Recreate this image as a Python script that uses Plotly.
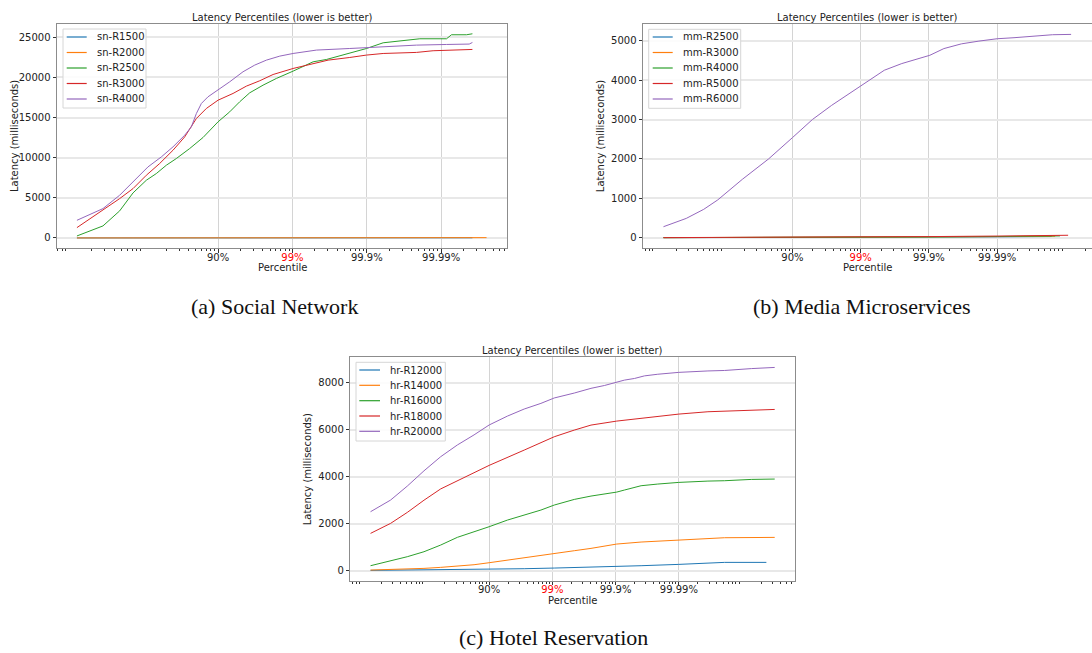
import plotly.graph_objects as go

W, H = 1092, 653
COLORS = ["#1f77b4", "#ff7f0e", "#2ca02c", "#d62728", "#9467bd"]
FONT = "DejaVu Sans"

# x positions are in "nines": 1 -> 90%, 2 -> 99%, 3 -> 99.9%, 4 -> 99.99%
# ---------------- Social Network ----------------
sn_names = ["sn-R1500", "sn-R2000", "sn-R2500", "sn-R3000", "sn-R4000"]
sn_nines = [
    [-0.897, 0.0, 1.0, 2.0, 3.0, 4.0, 4.42],
    [-0.897, 0.0, 1.0, 2.0, 3.0, 4.0, 4.61],
    [-0.897, -0.547, -0.323, -0.143, 0.036, 0.17, 0.305, 0.439, 0.619, 0.798, 1.0,
     1.157, 1.291, 1.426, 1.605, 1.785, 2.009, 2.278, 2.457, 2.771, 2.996, 3.22,
     3.444, 3.713, 4.072, 4.139, 4.341, 4.42],
    [-0.897, -0.547, -0.323, -0.143, 0.036, 0.215, 0.395, 0.552, 0.641, 0.709, 0.843,
     1.0, 1.202, 1.381, 1.561, 1.74, 2.009, 2.278, 2.48, 2.771, 2.996, 3.22, 3.668,
     3.892, 4.377, 4.42],
    [-0.897, -0.547, -0.323, -0.076, 0.058, 0.238, 0.395, 0.552, 0.641, 0.709, 0.776,
     0.865, 1.0, 1.157, 1.336, 1.493, 1.65, 1.83, 2.009, 2.323, 2.771, 3.22, 3.668,
     4.07, 4.377, 4.42],
]
sn_latency = [
    [3, 5, 7, 10, 14, 19, 24],
    [4, 6, 9, 13, 19, 28, 40],
    [250, 1500, 3370, 5610, 7190, 8020, 9060, 9890, 11140, 12510, 14460, 15710,
     16960, 18080, 19030, 19870, 20780, 21940, 22230, 22980, 23600, 24310, 24560,
     24810, 24810, 25310, 25310, 25430],
    [1290, 3450, 4900, 6150, 7810, 9270, 10930, 12590, 13840, 14880, 16130, 17160,
     18000, 18910, 19580, 20360, 21110, 21740, 22150, 22480, 22780, 22980, 23110,
     23320, 23400, 23480],
    [2200, 3660, 5320, 7600, 8850, 10100, 11350, 12800, 13840, 15500, 16750, 17580,
     18410, 19450, 20700, 21530, 22150, 22650, 22980, 23400, 23600, 23810, 24020,
     24100, 24150, 24350],
]

# ---------------- Media Microservices ----------------
mm_names = ["mm-R2500", "mm-R3000", "mm-R4000", "mm-R5000", "mm-R6000"]
mm_nines = [
    [-0.89, 1.0, 2.0, 3.0, 4.0, 4.8],
    [-0.89, 1.0, 2.0, 3.0, 4.0, 4.85],
    [-0.89, 1.0, 2.0, 3.0, 4.0, 4.92],
    [-0.89, 1.0, 2.0, 3.0, 4.0, 5.04],
    [-0.89, -0.556, -0.30, -0.094, 0.265, 0.651, 1.0, 1.293, 1.575, 1.781, 2.115,
     2.346, 2.603, 2.86, 3.014, 3.219, 3.476, 3.733, 4.0, 4.247, 4.504, 4.812, 5.084],
]
mm_latency = [
    [1, 3, 6, 12, 22, 30],
    [1, 4, 8, 15, 28, 38],
    [2, 5, 10, 18, 30, 45],
    [2, 6, 14, 28, 42, 62],
    [279, 490, 720, 960, 1480, 2000, 2540, 3000, 3360, 3600, 4000, 4250, 4420,
     4545, 4630, 4800, 4920, 4990, 5050, 5076, 5118, 5152, 5160],
]

# ---------------- Hotel Reservation ----------------
hr_names = ["hr-R12000", "hr-R14000", "hr-R16000", "hr-R18000", "hr-R20000"]
hr_nines = [
    [-0.875, -0.03, 0.498, 1.0, 1.555, 2.03, 2.611, 3.018, 3.403, 4.0, 4.724, 5.384],
    [-0.875, -0.558, -0.03, 0.234, 0.498, 0.762, 1.0, 1.29, 1.555, 1.819, 2.03, 2.347,
     2.611, 3.018, 3.403, 4.0, 4.46, 4.724, 5.516],
    [-0.875, -0.558, -0.294, -0.03, 0.234, 0.498, 0.762, 1.0, 1.29, 1.555, 1.819,
     2.03, 2.347, 2.611, 3.018, 3.139, 3.403, 3.667, 4.0, 4.46, 4.724, 5.146, 5.516],
    [-0.875, -0.558, -0.294, -0.03, 0.234, 0.498, 0.683, 1.0, 1.555, 2.03, 2.347,
     2.611, 3.018, 3.403, 4.0, 4.46, 4.724, 5.146, 5.516],
    [-0.875, -0.558, -0.294, -0.03, 0.234, 0.498, 0.762, 1.0, 1.29, 1.555, 1.819,
     2.03, 2.347, 2.611, 2.822, 3.139, 3.298, 3.456, 3.667, 4.0, 4.46, 4.724, 5.146,
     5.516],
]
hr_latency = [
    [14, 28, 43, 57, 85, 113, 142, 184, 213, 269, 354, 354],
    [28, 43, 99, 142, 199, 255, 340, 454, 567, 666, 737, 851, 950, 1134, 1220, 1305,
     1347, 1404, 1418],
    [213, 411, 596, 808, 1092, 1420, 1650, 1872, 2155, 2368, 2581, 2794, 3034, 3176,
     3346, 3432, 3616, 3687, 3758, 3814, 3829, 3885, 3900],
    [1588, 2014, 2480, 3000, 3480, 3830, 4080, 4481, 5133, 5700, 5984, 6197, 6367,
     6480, 6665, 6764, 6792, 6835, 6863],
    [2510, 3006, 3600, 4250, 4850, 5350, 5780, 6200, 6580, 6880, 7120, 7350, 7560,
     7760, 7880, 8110, 8180, 8290, 8360, 8440, 8500, 8520, 8600, 8650],
]

# tick positions on the 1/(1-p) log axis and their labels
percentile_ticks = [10, 100, 1000, 10000]
percentile_labels = ["90%", "99%", "99.9%", "99.99%"]
highlight_tick = 1  # index of the label drawn in red
minor_ticks = [k * 10 ** e for e in range(-2, 6) for k in range(2, 10)]


def fx(px):
    return px / W


def fy(py):
    return 1 - py / H


# panel geometry (pixels): left, right, top, bottom, x range (log), y range, y ticks
panels = [
    dict(names=sn_names, xs=sn_nines, ys=sn_latency, box=(57, 507, 24, 248),
         xr=[-1.165, 4.885], yr=[-1250, 26650], yt=list(range(0, 25001, 5000)),
         caption="(a) Social Network", cap=(274.5, 306),
         legend=(63, 146, 29, 108), leg_line=(66.7, 86.7), leg_text=95,
         leg_rows=[37, 52.5, 68, 83.5, 99]),
    dict(names=mm_names, xs=mm_nines, ys=mm_latency, box=(643, 1092.7, 24, 248.3),
         xr=[-1.19, 5.39], yr=[-269, 5424], yt=list(range(0, 5001, 1000)),
         caption="(b) Media Microservices", cap=(861, 306),
         legend=(648.7, 740.7, 29.3, 108.3), leg_line=(652.7, 672.7), leg_text=680.7,
         leg_rows=[37, 52.5, 68, 83.5, 99]),
    dict(names=hr_names, xs=hr_nines, ys=hr_latency, box=(350.3, 795.2, 357.3, 580.7),
         xr=[-1.195, 5.84], yr=[-425, 9081], yt=list(range(0, 8001, 2000)),
         caption="(c) Hotel Reservation", cap=(553, 637),
         legend=(356, 445.3, 362.3, 441), leg_line=(359.3, 380), leg_text=388.3,
         leg_rows=[370, 385.3, 400.7, 416, 431.3]),
]

fig = go.Figure()
shapes = []
annotations = []
tick_font = dict(family=FONT, size=10, color="#222222")

for i, p in enumerate(panels):
    sfx = "" if i == 0 else str(i + 1)
    over = str(i + 4)
    left, right, top, bottom = p["box"]
    for k, (name, xs, ys) in enumerate(zip(p["names"], p["xs"], p["ys"])):
        fig.add_trace(go.Scatter(
            x=[10 ** v for v in xs], y=ys, mode="lines", name=name,
            line=dict(color=COLORS[k], width=1.0), showlegend=False,
            xaxis="x" + sfx, yaxis="y" + sfx,
        ))
    # empty trace so the overlay axis (red 99% label) gets drawn
    fig.add_trace(go.Scatter(x=[], y=[], mode="lines", showlegend=False,
                             hoverinfo="skip", xaxis="x" + over, yaxis="y" + sfx))

    xdomain = [fx(left), min(1.0, fx(right))]
    main_text = [("" if j == highlight_tick else t) for j, t in enumerate(percentile_labels)]
    fig.layout["xaxis" + sfx] = dict(
        type="log", domain=xdomain, range=p["xr"],
        anchor="y" + sfx, tickmode="array", tickvals=percentile_ticks,
        ticktext=main_text, ticks="outside", ticklen=3.5, tickwidth=1,
        tickcolor="#333333", showgrid=True, gridcolor="#d4d4d4", gridwidth=1,
        showline=True, linecolor="#8c8c8c", linewidth=1, mirror=True,
        zeroline=False, tickfont=tick_font, ticklabelstandoff=-4,
        minor=dict(tickmode="array", tickvals=minor_ticks, ticks="outside",
                   ticklen=2, tickwidth=0.8, tickcolor="#333333", showgrid=False),
    )
    # overlay axis carrying the highlighted percentile label in red
    fig.layout["xaxis" + over] = dict(
        type="log", domain=xdomain, range=p["xr"], overlaying="x" + sfx,
        anchor="y" + sfx, side="bottom", tickmode="array",
        tickvals=[percentile_ticks[highlight_tick]],
        ticktext=[percentile_labels[highlight_tick]], ticks="outside", ticklen=3.5,
        tickcolor="rgba(0,0,0,0)", showgrid=False, showline=False, zeroline=False,
        ticklabelstandoff=-4, tickfont=dict(family=FONT, size=10, color="#ff0000"),
    )
    fig.layout["yaxis" + sfx] = dict(
        domain=[fy(bottom), fy(top)], range=p["yr"], anchor="x" + sfx,
        tickmode="array", tickvals=p["yt"], ticktext=[str(v) for v in p["yt"]],
        ticks="outside", ticklen=3.5, tickwidth=1, tickcolor="#333333",
        showgrid=True, gridcolor="#e8e8e8", gridwidth=1.6, showline=True,
        linecolor="#8c8c8c", linewidth=1, mirror=True, zeroline=False,
        tickfont=tick_font,
    )

    cx = (left + right) / 2
    annotations.append(dict(
        text="Latency Percentiles (lower is better)", x=fx(cx), y=fy(top - 7),
        xref="paper", yref="paper", xanchor="center", yanchor="middle",
        showarrow=False, font=tick_font))
    annotations.append(dict(
        text="Percentile", x=fx(cx), y=fy(bottom + 19.5), xref="paper", yref="paper",
        xanchor="center", yanchor="middle", showarrow=False, font=tick_font))
    annotations.append(dict(
        text="Latency (milliseconds)", x=fx(left - 43), y=fy((top + bottom) / 2),
        xref="paper", yref="paper", xanchor="center", yanchor="middle",
        textangle=-90, showarrow=False, font=tick_font))
    annotations.append(dict(
        text=p["caption"], x=fx(p["cap"][0]), y=fy(p["cap"][1]), xref="paper",
        yref="paper", xanchor="center", yanchor="middle", showarrow=False,
        font=dict(family="Liberation Serif", size=22, color="#111111")))

    # legend box
    l0, l1, t0, t1 = p["legend"]
    shapes.append(dict(type="rect", xref="paper", yref="paper", x0=fx(l0), x1=fx(l1),
                       y0=fy(t1), y1=fy(t0), line=dict(color="#d6d6d6", width=1),
                       fillcolor="rgba(255,255,255,0.85)", layer="above"))
    for k, name in enumerate(p["names"]):
        ry = p["leg_rows"][k]
        shapes.append(dict(type="line", xref="paper", yref="paper",
                           x0=fx(p["leg_line"][0]), x1=fx(p["leg_line"][1]),
                           y0=fy(ry), y1=fy(ry), layer="above",
                           line=dict(color=COLORS[k], width=1.2)))
        annotations.append(dict(
            text=name, x=fx(p["leg_text"]), y=fy(ry), xref="paper", yref="paper",
            xanchor="left", yanchor="middle", showarrow=False, font=tick_font))

fig.update_layout(
    width=W, height=H, margin=dict(l=0, r=0, t=0, b=0),
    paper_bgcolor="white", plot_bgcolor="white",
    shapes=shapes, annotations=annotations, showlegend=False,
)

fig.write_html("out.html")
